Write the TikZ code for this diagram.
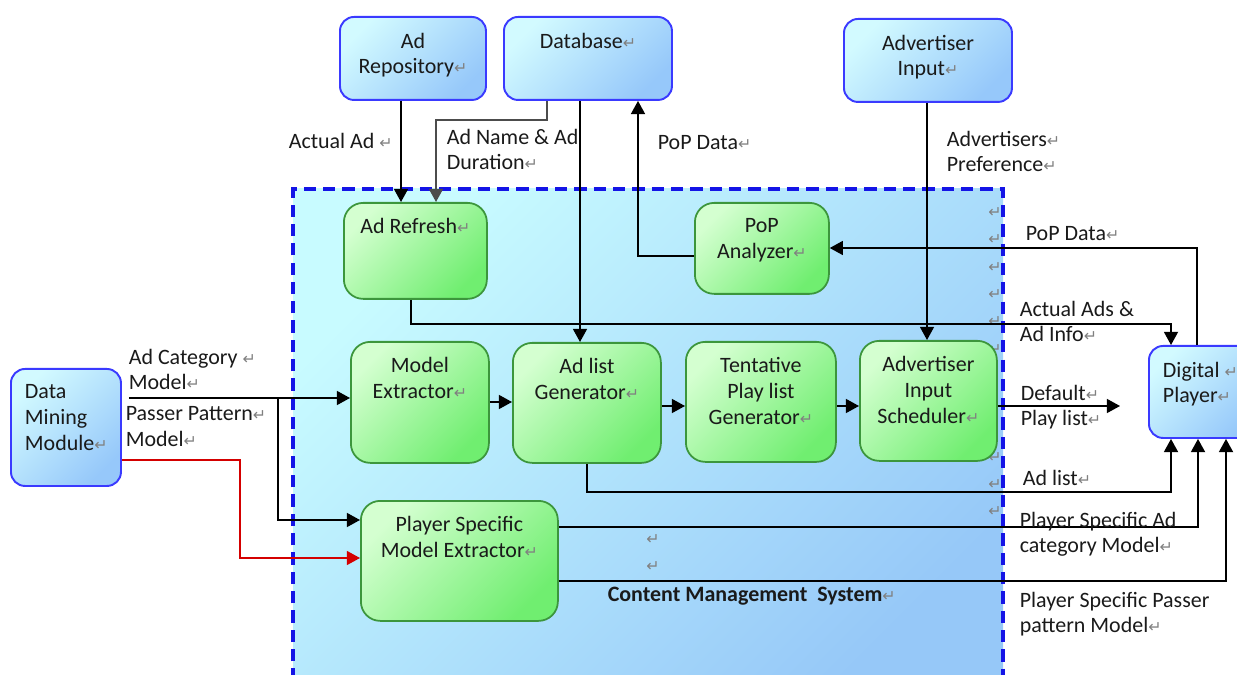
\documentclass[tikz,border=0pt]{standalone}
\usepackage{fontspec}
\setmainfont{Carlito}
\newfontfamily\retfont{DejaVu Sans}
\usetikzlibrary{arrows.meta,positioning}

\definecolor{txt}{HTML}{1A1A1A}
\definecolor{bluln}{HTML}{3A3AFF}
\definecolor{blutop}{HTML}{D2FAFF}
\definecolor{blubot}{HTML}{96C8FA}
\definecolor{grnln}{HTML}{3C963C}
\definecolor{grntop}{HTML}{D4FFD0}
\definecolor{grnbot}{HTML}{70EE70}
\definecolor{cmstop}{HTML}{C8FBFF}
\definecolor{cmsbot}{HTML}{96C8F8}
\definecolor{cmsln}{HTML}{1414E6}
\definecolor{redln}{HTML}{D40000}

\newlength\pxu \setlength\pxu{0.02cm}
\newcommand\ret{{\retfont\fontsize{9}{9}\selectfont\color{gray}↵}}
\newcommand\bx[3]{\parbox[t][#2\pxu][t]{#1\pxu}{\centering\vspace*{9pt}#3}}
\newcommand\bxl[3]{\parbox[t][#2\pxu][t]{#1\pxu}{\raggedright\leftskip=14\pxu\vspace*{9pt}#3}}

\begin{document}
\begin{tikzpicture}[x=0.02cm,y=-0.02cm,>={Triangle[length=7.5pt,width=8pt]},
  font=\fontsize{12.5}{14.6}\selectfont,text=txt,line width=0.9pt,
  blubox/.style={draw=bluln,line width=1.1pt,rounded corners=8pt,top color=blutop,
    bottom color=blubot,shading angle=45,inner sep=0pt,anchor=north west},
  grnbox/.style={draw=grnln,line width=1pt,rounded corners=11pt,top color=grntop,
    bottom color=grnbot,shading angle=45,inner sep=0pt,anchor=north west},
  lbl/.style={anchor=north west,inner sep=0pt,align=left}]
\useasboundingbox (0,0) rectangle (1237,675);

% content management system
\shade[top color=cmstop,bottom color=cmsbot,shading angle=45] (293,189) rectangle (1003,700);
\draw[cmsln,line width=2pt,dash pattern=on 7pt off 4pt] (293,700) |- (1003,189) -- (1003,700);
\foreach \y in {213,240,268,295,322,350,458,485,512}
  \node[inner sep=0pt] (r\y) at (995,\y) {\ret};
\node[inner sep=0pt] (r1) at (653,540) {\ret};
\node[inner sep=0pt] (r2) at (653,567) {\ret};

% outside blocks
\node[blubox] (repo) at (339,16) {\bx{146}{83}{Ad\\Repository\ret}};
\node[blubox] (db) at (503,16) {\bx{168}{83}{Database\ret}};
\node[blubox] (advin) at (843,18) {\bx{168}{83}{Advertiser\\Input\ret}};
\node[blubox] (dmm) at (10,368) {\bxl{110}{117}{Data\\Mining\\Module\ret}};
\node[blubox] (player) at (1148,345) {\bxl{112}{92}{Digital \ret\\Player\ret}};

% cms blocks
\node[grnbox] (refresh) at (343,202) {\bx{143}{96}{Ad Refresh\ret}};
\node[grnbox] (popan) at (694,202) {\bx{134}{91}{PoP\\Analyzer\ret}};
\node[grnbox] (modex) at (350,341) {\bx{138}{121}{Model\\Extractor\ret}};
\node[grnbox] (adlist) at (512,342) {\bx{148}{120}{Ad list\\Generator\ret}};
\node[grnbox] (tent) at (685,341) {\bx{150}{120}{Tentative\\Play list\\Generator\ret}};
\node[grnbox] (sched) at (859,340) {\bx{137}{120}{Advertiser\\Input\\Scheduler\ret}};
\node[grnbox] (psme) at (360,500) {\bx{197}{120}{Player Specific\\Model Extractor\ret}};

% flows
\draw[->] (repo.south -| 401,0) -- (refresh.north -| 401,0);
\draw[->,draw=black!70] (db.south -| 547,0) -- ++(0,19) -| (refresh.north -| 436,0);
\draw[->] (db.south -| 580,0) -- (adlist.north -| 580,0);
\draw[->] (popan.west |- 0,256) -| (db.south -| 638,0);
\draw[->] (advin.south -| 927,0) -- (sched.north -| 927,0);
\draw[->] (player.north -| 1197,0) |- (popan.east |- 0,248);
\draw[->] (refresh.south -| 411,0) -- ++(0,24) -| (player.north -| 1171,0);
\draw[->,shorten <=4pt] (dmm.east |- 0,398) -- (modex.west |- 0,398);
\coordinate (split) at (278,398);
\draw[->] (split) |- (psme.west |- 0,520);
\draw[->,draw=redln,line width=0.8pt] (dmm.east |- 0,460) -- ++(118,0) |- (psme.west |- 0,558);
\draw[->] (modex.east |- 0,402) -- (adlist.west |- 0,402);
\draw[->] (adlist.east |- 0,406) -- (tent.west |- 0,406);
\draw[->] (tent.east |- 0,406) -- (sched.west |- 0,406);
\coordinate (dpl) at (1120,406);
\draw[->] (sched.east |- 0,406) -- (dpl);
\draw[->] (adlist.south -| 587,0) -- ++(0,28) -| (player.south -| 1171,0);
\draw[->] (psme.east |- 0,527) -| (player.south -| 1198,0);
\draw[->] (psme.east |- 0,581) -| (player.south -| 1226,0);

% labels
\node[lbl] (lact) at (288,132) {Actual Ad \ret};
\node[lbl] (lname) at (446,128) {Ad Name \& Ad\\Duration\ret};
\node[lbl] (lpop1) at (657,135) {PoP Data\ret};
\node[lbl] (lpref) at (946,130) {Advertisers\ret\\Preference\ret};
\node[lbl] (lpop2) at (1025,226) {PoP Data\ret};
\node[lbl] (lads) at (1019,300) {Actual Ads \&\\Ad Info\ret};
\node[lbl] (lcat) at (128,348) {Ad Category \ret\\Model\ret};
\node[lbl] (lpass) at (125,406) {Passer Pattern\ret\\Model\ret};
\node[lbl] (ldef) at (1020,384) {Default\ret\\Play list\ret};
\node[lbl] (llist) at (1022,469) {Ad list\ret};
\node[lbl] (lpsa) at (1019,511) {Player Specific Ad\\category Model\ret};
\node[lbl] (lpsp) at (1019,591) {Player Specific Passer\\pattern Model\ret};
\node[lbl] (lcms) at (607,586) {\textbf{Content Management\ \ System}\ret};
\end{tikzpicture}
\end{document}
